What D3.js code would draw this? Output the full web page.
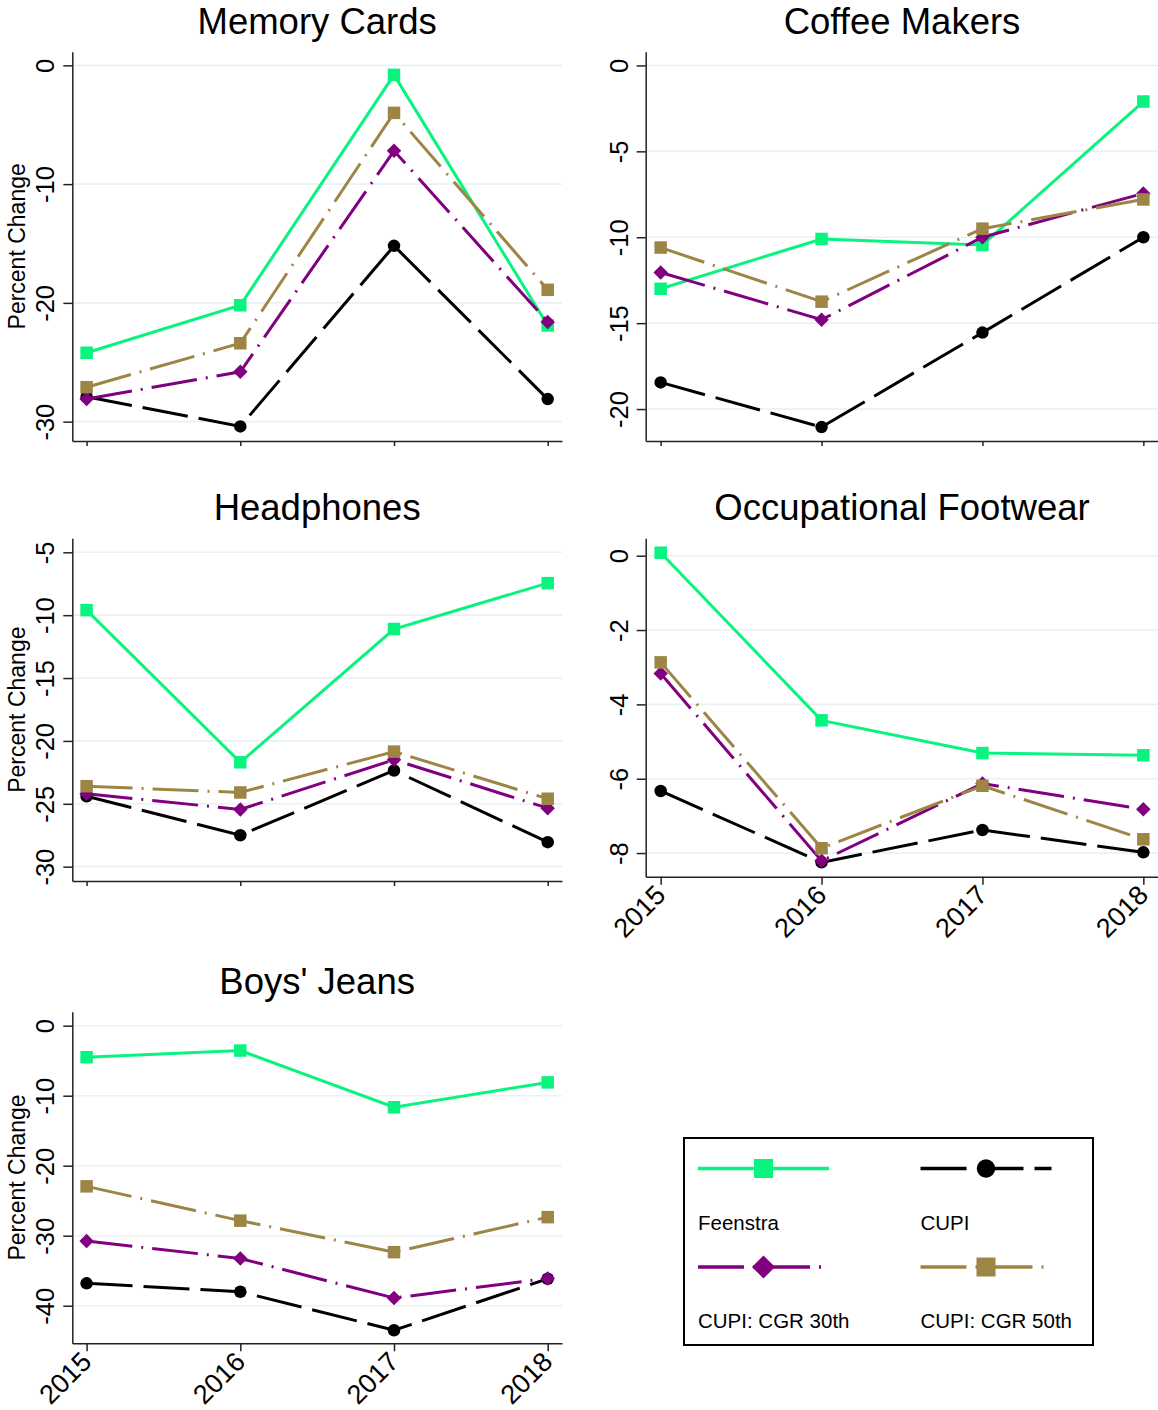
<!DOCTYPE html>
<html>
<head>
<meta charset="utf-8">
<script src="https://cdn.jsdelivr.net/npm/d3@7"></script>
<style>
  html, body { margin: 0; padding: 0; background: #fff; }
  svg { display: block; font-family: "Liberation Sans", Arial, Helvetica, sans-serif; }
</style>
</head>
<body>
<svg id="chart" width="1158" height="1410"></svg>
<script>
// ---- data -------------------------------------------------------------
const years = [2015, 2016, 2017, 2018];
const seriesNames = ["Feenstra", "CUPI", "CUPI: CGR 30th", "CUPI: CGR 50th"];

const memoryFeenstra = [-24.2, -20.2, -0.8, -21.9];
const memoryCupi     = [-27.9, -30.4, -15.2, -28.1];
const memoryCgr30    = [-28.1, -25.8, -7.2, -21.6];
const memoryCgr50    = [-27.1, -23.4, -4.0, -18.9];
const memoryTicks    = [0, -10, -20, -30];

const coffeeFeenstra = [-13.0, -10.1, -10.45, -2.1];
const coffeeCupi     = [-18.45, -21.05, -15.55, -10.0];
const coffeeCgr30    = [-12.05, -14.8, -10.0, -7.45];
const coffeeCgr50    = [-10.6, -13.75, -9.5, -7.8];
const coffeeTicks    = [0, -5, -10, -15, -20];

const headFeenstra = [-9.6, -21.7, -11.1, -7.45];
const headCupi     = [-24.4, -27.5, -22.35, -28.05];
const headCgr30    = [-24.2, -25.45, -21.5, -25.35];
const headCgr50    = [-23.6, -24.1, -20.85, -24.6];
const headTicks    = [-5, -10, -15, -20, -25, -30];

const footFeenstra = [0.08, -4.43, -5.31, -5.37];
const footCupi     = [-6.33, -8.25, -7.38, -7.98];
const footCgr30    = [-3.17, -8.21, -6.13, -6.82];
const footCgr50    = [-2.87, -7.87, -6.19, -7.63];
const footTicks    = [0, -2, -4, -6, -8];

const jeansFeenstra = [-4.5, -3.55, -11.65, -8.1];
const jeansCupi     = [-36.8, -38.0, -43.5, -36.15];
const jeansCgr30    = [-30.75, -33.25, -38.9, -36.1];
const jeansCgr50    = [-22.95, -27.85, -32.35, -27.35];
const jeansTicks    = [0, -10, -20, -30, -40];

// ---- series styling -----------------------------------------------------
const styles = [
  { color: "#08f47e", dash: null,         marker: "square" },
  { color: "#000000", dash: "46 11",      marker: "circle" },
  { color: "#800080", dash: "46 9 2 9",   marker: "diamond" },
  { color: "#9c8545", dash: "46 9 2 9",   marker: "square" }
];

// ---- panel layout ------------------------------------------------------
const LEFT = { x0: 72.3, x1: 562 };
const RIGHT = { x0: 645.7, x1: 1158.3 };
const panels = [
  { title: "Memory Cards", cols: LEFT, top: 51.7, bottom: 441, domain: [-31.63, 1.15],
    ticks: memoryTicks, values: [memoryFeenstra, memoryCupi, memoryCgr30, memoryCgr50],
    yTitle: true, xLabels: false },
  { title: "Coffee Makers", cols: RIGHT, top: 51.7, bottom: 441, domain: [-21.86, 0.8],
    ticks: coffeeTicks, values: [coffeeFeenstra, coffeeCupi, coffeeCgr30, coffeeCgr50],
    yTitle: false, xLabels: false },
  { title: "Headphones", cols: LEFT, top: 538.3, bottom: 881, domain: [-31.14, -3.887],
    ticks: headTicks, values: [headFeenstra, headCupi, headCgr30, headCgr50],
    yTitle: true, xLabels: false },
  { title: "Occupational Footwear", cols: RIGHT, top: 538.3, bottom: 876.7, domain: [-8.636, 0.468],
    ticks: footTicks, values: [footFeenstra, footCupi, footCgr30, footCgr50],
    yTitle: false, xLabels: true },
  { title: "Boys' Jeans", cols: LEFT, top: 1011.7, bottom: 1343.3, domain: [-45.37, 2.0],
    ticks: jeansTicks, values: [jeansFeenstra, jeansCupi, jeansCgr30, jeansCgr50],
    yTitle: true, xLabels: true }
];

const svg = d3.select("#chart");
const PAD = 0.093;
const plain = d => String(d);   // keeps the ASCII hyphen for negatives

function markerPath(kind, size) {
  // size = side of square, diameter of circle, diagonal of diamond
  if (kind === "circle") return d3.symbol(d3.symbolCircle, Math.PI * (size / 2) ** 2)();
  if (kind === "diamond") return d3.symbol(d3.symbolSquare, (size / Math.SQRT2) ** 2)();
  return d3.symbol(d3.symbolSquare, size * size)();
}
const chartMarkerSize = { square: 12.5, circle: 12.5, diamond: 14.5 };
const legendMarkerSize = { square: 19, circle: 18.5, diamond: 23 };

panels.forEach(p => {
  const g = svg.append("g");
  const x = d3.scaleLinear().domain([years[0] - PAD, years[years.length - 1] + PAD])
    .range([p.cols.x0, p.cols.x1]);
  const y = d3.scaleLinear().domain(p.domain).range([p.bottom, p.top]);

  // grid lines
  g.append("g").selectAll("line").data(p.ticks).join("line")
    .attr("x1", p.cols.x0 + 1).attr("x2", p.cols.x1)
    .attr("y1", d => y(d)).attr("y2", d => y(d))
    .attr("stroke", "#e9f1f3").attr("stroke-width", 1.6);

  // y axis with vertical labels
  const ya = g.append("g").attr("transform", `translate(${p.cols.x0},0)`)
    .call(d3.axisLeft(y).tickValues(p.ticks).tickSize(9).tickSizeOuter(0).tickFormat(plain));
  ya.attr("font-size", 25.5).attr("font-family", null).attr("color", "#222");
  ya.selectAll("path, line").attr("stroke-width", 1.5);
  ya.selectAll(".tick text")
    .attr("transform", "rotate(-90)")
    .attr("x", 0).attr("y", -18).attr("dy", 0)
    .attr("text-anchor", "middle").attr("fill", "#000");

  // x axis
  const xa = g.append("g").attr("transform", `translate(0,${p.bottom})`)
    .call(d3.axisBottom(x).tickValues(years).tickSize(p.xLabels ? 8 : 5).tickSizeOuter(0)
      .tickFormat(p.xLabels ? plain : () => ""));
  xa.attr("font-size", 27).attr("font-family", null).attr("color", "#222");
  xa.selectAll("path, line").attr("stroke-width", 1.5);
  xa.selectAll(".tick text")
    .attr("transform", "translate(6,20) rotate(-45)")
    .attr("x", 0).attr("y", 0).attr("dy", 0)
    .attr("text-anchor", "end").attr("fill", "#000");

  // title
  g.append("text")
    .attr("x", (p.cols.x0 + p.cols.x1) / 2).attr("y", p.top - 18)
    .attr("text-anchor", "middle").attr("font-size", 36.5).text(p.title);

  if (p.yTitle) {
    g.append("text")
      .attr("transform", `translate(25,${(p.top + p.bottom) / 2}) rotate(-90)`)
      .attr("text-anchor", "middle").attr("font-size", 23).text("Percent Change");
  }

  // series: line then markers, in order
  const line = d3.line().x((d, i) => x(years[i])).y(d => y(d));
  p.values.forEach((vals, si) => {
    const s = styles[si];
    g.append("path").datum(vals)
      .attr("d", line).attr("fill", "none")
      .attr("stroke", s.color).attr("stroke-width", 3)
      .attr("stroke-dasharray", s.dash);
    g.append("g").selectAll("path").data(vals).join("path")
      .attr("transform", (d, i) => `translate(${x(years[i])},${y(d)})${s.marker === "diamond" ? " rotate(45)" : ""}`)
      .attr("d", markerPath(s.marker, chartMarkerSize[s.marker]))
      .attr("fill", s.color);
  });
});

// ---- legend --------------------------------------------------------------
const legend = svg.append("g");
legend.append("rect")
  .attr("x", 684).attr("y", 1138).attr("width", 409).attr("height", 207)
  .attr("fill", "#fff").attr("stroke", "#000").attr("stroke-width", 2);

const legendPos = [
  { x0: 698, x1: 829, ly: 1168.5, ty: 1230 },
  { x0: 920.5, x1: 1051.5, ly: 1168.5, ty: 1230 },
  { x0: 698, x1: 829, ly: 1267, ty: 1328 },
  { x0: 920.5, x1: 1051.5, ly: 1267, ty: 1328 }
];
seriesNames.forEach((name, i) => {
  const s = styles[i], pos = legendPos[i];
  legend.append("line")
    .attr("x1", pos.x0).attr("x2", pos.x1).attr("y1", pos.ly).attr("y2", pos.ly)
    .attr("stroke", s.color).attr("stroke-width", 3.5)
    .attr("stroke-dasharray", s.dash);
  legend.append("path")
    .attr("transform", `translate(${(pos.x0 + pos.x1) / 2},${pos.ly})${s.marker === "diamond" ? " rotate(45)" : ""}`)
    .attr("d", markerPath(s.marker, legendMarkerSize[s.marker]))
    .attr("fill", s.color);
  legend.append("text")
    .attr("x", pos.x0).attr("y", pos.ty)
    .attr("font-size", 20.5).attr("fill", "#000").text(name);
});
</script>
</body>
</html>
